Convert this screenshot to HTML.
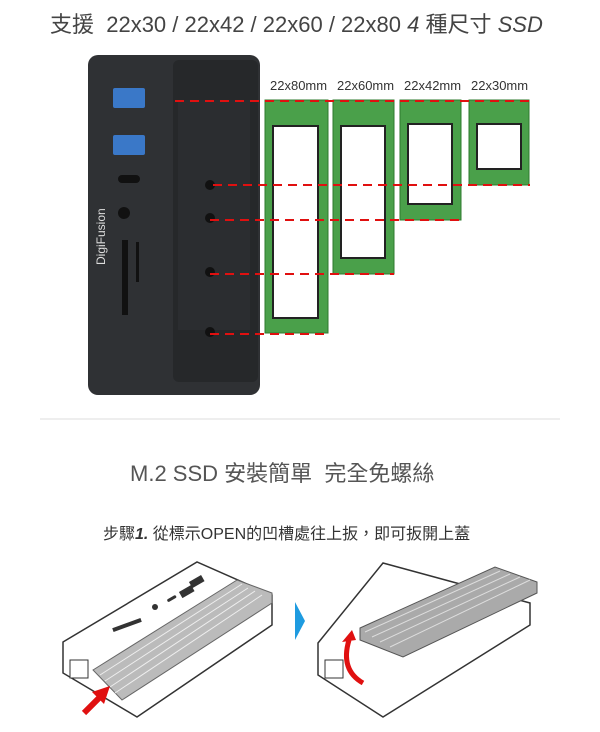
<!DOCTYPE html>
<html><head><meta charset="utf-8"><style>
body{margin:0;width:600px;height:732px;background:#fff;position:relative;overflow:hidden;font-family:"Liberation Sans","Noto Sans CJK TC",sans-serif}
.t{position:absolute;white-space:nowrap;color:#444}
</style></head><body>
<div class="t" style="left:50px;top:7px;font-size:22px;">支援&nbsp; 22x30 / 22x42 / 22x60 / 22x80 <i>4</i> 種尺寸 <i>SSD</i></div>
<svg width="600" height="420" style="position:absolute;left:0;top:0">
<rect x="88" y="55" width="172" height="340" rx="10" fill="#2f3134"/>
<rect x="173" y="60" width="85" height="322" rx="6" fill="#26282a"/>
<rect x="178" y="100" width="72" height="230" fill="#2b2d30"/>
<rect x="113" y="88" width="32" height="20" rx="2" fill="#3a78c8"/>
<rect x="113" y="135" width="32" height="20" rx="2" fill="#3a78c8"/>
<rect x="118" y="175" width="22" height="8" rx="4" fill="#111"/>
<circle cx="124" cy="213" r="6" fill="#111"/>
<rect x="122" y="240" width="6" height="75" fill="#111"/>
<rect x="136" y="242" width="3" height="40" fill="#111"/>
<circle cx="210" cy="185" r="5" fill="#111"/><circle cx="210" cy="218" r="5" fill="#111"/><circle cx="210" cy="272" r="5" fill="#111"/><circle cx="210" cy="332" r="5" fill="#111"/>
<text x="105" y="265" transform="rotate(-90 105 265)" fill="#ddd" font-size="12" font-family="Liberation Sans">DigiFusion</text>
<g fill="#4aa04a" stroke="#2d7a2d"><rect x="265" y="100" width="63" height="233"/><rect x="333" y="100" width="61" height="174"/><rect x="400" y="100" width="61" height="120"/><rect x="469" y="100" width="60" height="85"/></g>
<g fill="#fff" stroke="#222" stroke-width="2"><rect x="273" y="126" width="45" height="192"/><rect x="341" y="126" width="44" height="132"/><rect x="408" y="124" width="44" height="80"/><rect x="477" y="124" width="44" height="45"/></g>
<g stroke="#e01010" stroke-width="2" stroke-dasharray="9,6"><line x1="175" y1="101" x2="530" y2="101"/><line x1="213" y1="185" x2="530" y2="185"/><line x1="210" y1="220" x2="461" y2="220"/><line x1="210" y1="274" x2="394" y2="274"/><line x1="210" y1="334" x2="328" y2="334"/></g>
<g font-size="13" fill="#333" font-family="Liberation Sans"><text x="270" y="90">22x80mm</text><text x="337" y="90">22x60mm</text><text x="404" y="90">22x42mm</text><text x="471" y="90">22x30mm</text></g>
<rect x="40" y="418" width="520" height="4" fill="#eee"/>
</svg>
<div class="t" style="left:130px;top:456px;font-size:22px;color:#555">M.2 SSD 安裝簡單&nbsp; 完全免螺絲</div>
<div class="t" style="left:103px;top:520px;font-size:16px;color:#333">步驟<b><i>1.</i></b> 從標示OPEN的凹槽處往上扳，即可扳開上蓋</div>
<svg width="600" height="172" style="position:absolute;left:0;top:560px">
<polygon points="63,82 197,2 272,35 272,65 137,157 63,113" fill="#fff" stroke="#333" stroke-width="1.5"/>
<polygon points="93,110 237,20 272,33 272,43 122,140" fill="#bbb" stroke="#666"/>
<g stroke="#eee" stroke-width="1"><line x1="100" y1="115" x2="242" y2="24"/><line x1="105" y1="121" x2="248" y2="28"/><line x1="110" y1="127" x2="255" y2="31"/><line x1="115" y1="133" x2="262" y2="35"/></g>
<rect x="190" y="18" width="14" height="7" fill="#333" transform="rotate(-30 197 22)"/><rect x="180" y="28" width="14" height="7" fill="#333" transform="rotate(-30 187 32)"/>
<rect x="167" y="37" width="10" height="3" rx="1.5" fill="#333" transform="rotate(-30 172 39)"/>
<circle cx="155" cy="47" r="3" fill="#333"/>
<rect x="112" y="63" width="30" height="4" fill="#333" transform="rotate(-20 127 65)"/>
<rect x="70" y="100" width="18" height="18" fill="#fff" stroke="#333"/>
<line x1="84" y1="153" x2="102" y2="135" stroke="#e01010" stroke-width="6"/><polygon points="110,126 92,132 104,144" fill="#e01010"/>
<polygon points="295,42 305,61 295,80" fill="#1e9be0"/>
<polygon points="318,83 383,3 530,43 530,65 383,157 318,115" fill="#fff" stroke="#333" stroke-width="1.5"/>
<polygon points="360,68 495,7 537,22 537,33 403,97 360,80" fill="#aaa" stroke="#555"/>
<g stroke="#ddd" stroke-width="1"><line x1="365" y1="72" x2="500" y2="11"/><line x1="372" y1="77" x2="510" y2="14"/><line x1="380" y1="82" x2="520" y2="17"/><line x1="390" y1="87" x2="530" y2="20"/></g>
<rect x="325" y="100" width="18" height="18" fill="#fff" stroke="#333"/>
<path d="M363 123 Q340 110 349 80" stroke="#e01010" stroke-width="5" fill="none"/><polygon points="342,82 356,80 352,70" fill="#e01010"/>
</svg>
</body></html>
